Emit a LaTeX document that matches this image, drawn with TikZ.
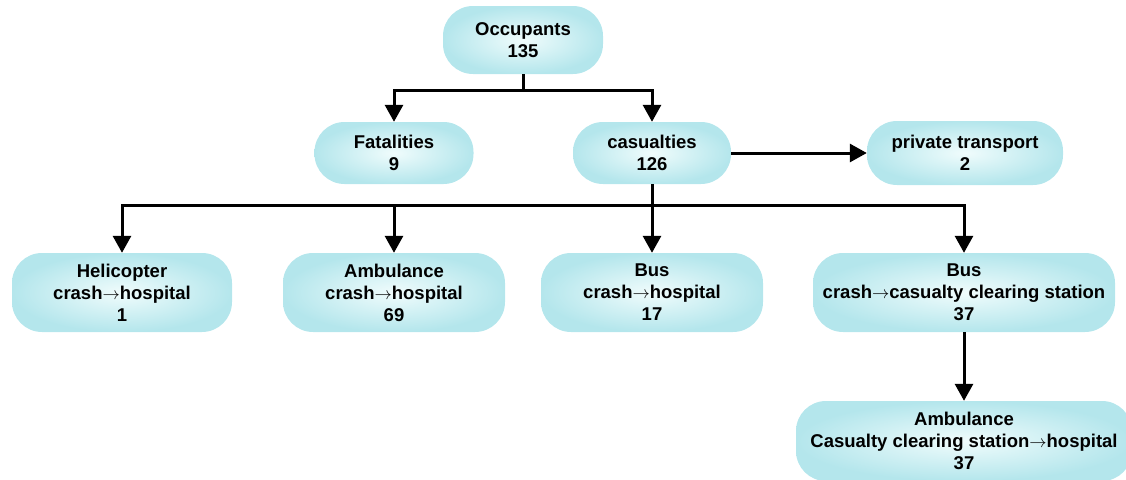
\documentclass[tikz,border=0pt]{standalone}
\usepackage{fontspec}
\setmainfont{Liberation Sans}
\usetikzlibrary{arrows.meta,calc,positioning}

\definecolor{boxedge}{RGB}{180,230,236}
\definecolor{boxmid}{RGB}{240,252,252}

\tikzset{
	stagebox/.style={rounded corners=30pt, inner color=boxmid, outer color=boxedge,
		align=center, font=\fontsize{18.5}{22}\selectfont\bfseries, inner sep=0pt},
	flow/.style={line width=3pt, -{Triangle[width=18pt,length=17pt]}},
	flowline/.style={line width=3pt}
}
\newcommand{\toarr}{$\rightarrow$}

\begin{document}
\begin{tikzpicture}[x=1pt,y=-1pt]
	\useasboundingbox (0,0) rectangle (1126,479);
	\clip (0,0) rectangle (1126,479);
	% top rows
	\node[stagebox, minimum width=160pt, minimum height=68pt] (occ) at (523,40) {Occupants\\135};
	\node[stagebox, minimum width=159pt, minimum height=62pt] (fat) at (394,153) {Fatalities\\9};
	\node[stagebox, minimum width=158pt, minimum height=62pt] (cas) at (652,153) {casualties\\126};
	\node[stagebox, minimum width=196pt, minimum height=64pt] (priv) at (965,153) {private transport\\2};
	% third row
	\node[stagebox, minimum width=220pt, minimum height=79pt] (heli) at (122,292.5) {Helicopter\\crash\toarr hospital\\1};
	\node[stagebox, minimum width=222pt, minimum height=79pt] (amb) at (394,292.5) {Ambulance\\crash\toarr hospital\\69};
	\node[stagebox, minimum width=222pt, minimum height=79pt] (bus) at (652,292.5) {Bus\\crash\toarr hospital\\17};
	\node[stagebox, minimum width=302pt, minimum height=79pt] (busccs) at (964,292.5) {Bus\\crash\toarr casualty clearing station\\37};
	\node[stagebox, minimum width=336pt, minimum height=80pt] (ambccs) at (964,441) {Ambulance\\Casualty clearing station\toarr hospital\\37};
	% connectors
	\coordinate (split1) at ($(occ.south)+(0,16)$);
	\coordinate (split2) at ($(cas.south)+(0,21)$);
	\draw[flowline] (occ.south) -- (split1);
	\draw[flow] (split1) -| (fat.north);
	\draw[flow] (split1) -| (cas.north);
	\draw[flow] (cas.east) -- (priv.west);
	\draw[flowline] (cas.south) -- (split2);
	\draw[flow] (split2) -| (heli.north);
	\draw[flow] (split2) -| (amb.north);
	\draw[flow] (split2) -- (bus.north);
	\draw[flow] (split2) -| (busccs.north);
	\draw[flow] (busccs.south) -- (ambccs.north);
\end{tikzpicture}
\end{document}
